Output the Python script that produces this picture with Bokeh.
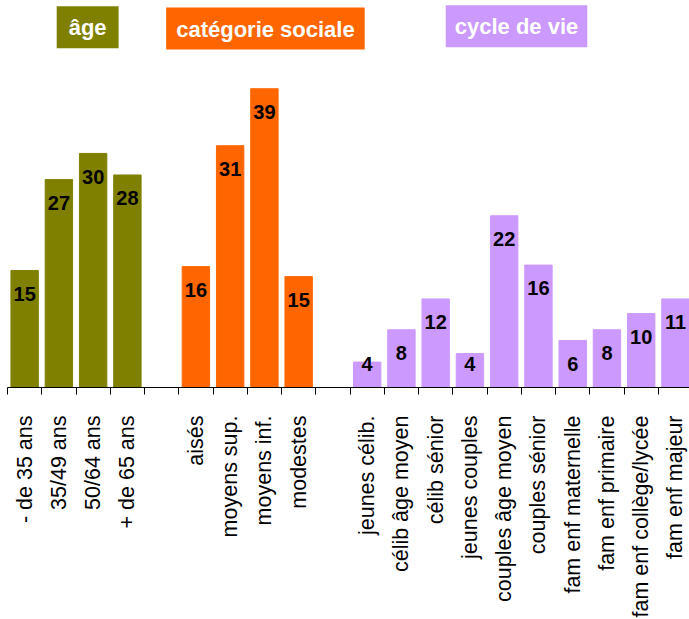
import math
import numpy as np
from bokeh.plotting import figure
from bokeh.models import FixedTicker, Label, Range1d, ColumnDataSource
from bokeh.core.properties import value
from bokeh.embed import file_html
from bokeh.resources import INLINE

# ---- data ----
age_labels = ["- de 35 ans", "35/49 ans", "50/64 ans", "+ de 65 ans"]
age_values = [15.2, 27.0, 30.4, 27.6]
age_text = ["15", "27", "30", "28"]

social_labels = ["aisés", "moyens sup.", "moyens inf.", "modestes"]
social_values = [15.7, 31.4, 38.8, 14.4]
social_text = ["16", "31", "39", "15"]

cycle_labels = ["jeunes célib.", "célib âge moyen", "célib sénior", "jeunes couples",
                "couples âge moyen", "couples sénior", "fam enf maternelle",
                "fam enf primaire", "fam enf collège/lycée", "fam enf majeur"]
cycle_values = [3.3, 7.5, 11.5, 4.4, 22.3, 15.9, 6.1, 7.5, 9.6, 11.5]
cycle_text = ["4", "8", "12", "4", "22", "16", "6", "8", "10", "11"]

group_names = ["âge", "catégorie sociale", "cycle de vie"]
group_colors = ["#808000", "#FF6600", "#CC99FF"]

# ---- layout of categories (one blank slot between groups) ----
groups = [(age_labels, age_values, age_text),
          (social_labels, social_values, social_text),
          (cycle_labels, cycle_values, cycle_text)]
xs, tops, texts, cols, labels = [], [], [], [], []
pos = 0
for (lab, val, txt), col in zip(groups, group_colors):
    for l, v, t in zip(lab, val, txt):
        xs.append(pos); tops.append(v); texts.append(t); cols.append(col); labels.append(l)
        pos += 1
    pos += 1
n_slots = pos - 1

tops_arr = np.array(tops)
label_y = np.maximum(tops_arr - 3.0, 3.0)

src = ColumnDataSource(dict(x=xs, top=tops, color=cols, text=texts, ly=label_y))

p = figure(frame_width=682, frame_height=387, output_backend="svg", toolbar_location=None,
           x_range=Range1d(-0.5, n_slots - 0.59), y_range=Range1d(0, 50.26),
           min_border_left=7, min_border_right=0, min_border_top=0, min_border_bottom=0)
p.outline_line_color = None
p.xgrid.visible = False
p.ygrid.visible = False
p.yaxis.visible = False
p.background_fill_color = "white"
p.border_fill_color = "white"

p.vbar(x="x", top="top", bottom=0, width=0.8, color="color", source=src)
p.text(x="x", y="ly", text="text", source=src, text_align="center", text_baseline="middle",
       text_font=value("Liberation Sans"), text_font_style="bold", text_font_size="20px",
       text_color="black")

ax = p.xaxis[0]
ax.ticker = FixedTicker(ticks=xs, minor_ticks=[i - 0.5 for i in range(n_slots + 1)])
ax.major_label_overrides = {x: l for x, l in zip(xs, labels)}
ax.major_tick_out = 0
ax.major_tick_in = 0
ax.major_tick_line_color = None
ax.minor_tick_out = 7
ax.minor_tick_in = 0
ax.minor_tick_line_color = "black"
ax.axis_line_color = "black"
ax.major_label_orientation = math.pi / 2
ax.major_label_standoff = 21
ax.major_label_text_font = "Liberation Sans"
ax.major_label_text_font_size = "21.5px"
ax.major_label_text_color = "black"

# group title boxes
title_pos = [(1.84, 46.77, 12), (7.03, 46.62, 10), (14.36, 46.9, 9)]
for name, col, (tx, ty, ph) in zip(group_names, group_colors, title_pos):
    p.add_layout(Label(x=tx, y=ty, text=name, text_color="white", text_font="Liberation Sans",
                       text_font_style="bold", text_font_size="22px", text_align="center",
                       text_baseline="middle", background_fill_color=col,
                       padding=dict(left=ph, right=ph, top=9, bottom=8)))

open("out.html", "w").write(file_html(p, INLINE))
